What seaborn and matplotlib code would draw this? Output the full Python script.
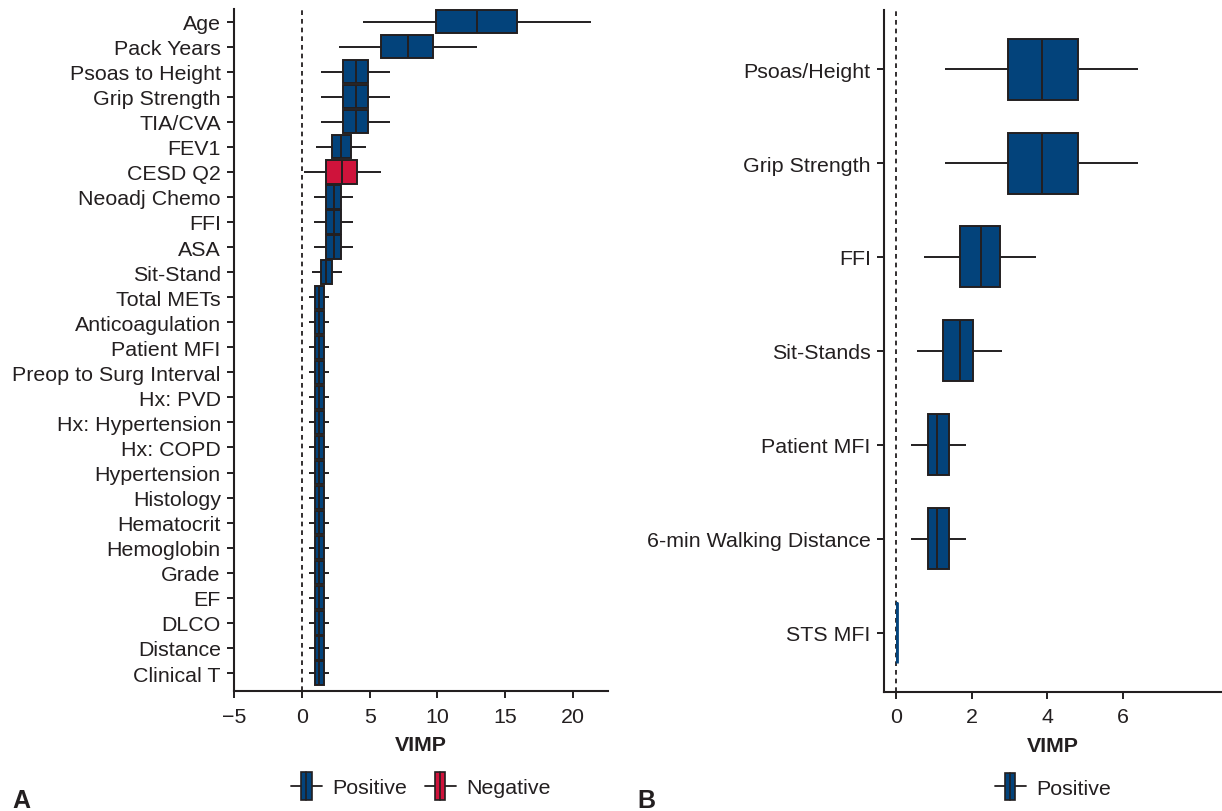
import numpy as np
import pandas as pd
import matplotlib
matplotlib.use("Agg")
import matplotlib.pyplot as plt
import matplotlib.patches as mpatches
from matplotlib.lines import Line2D
from matplotlib.legend_handler import HandlerBase
import seaborn as sns

# ---------------- data (five-number summaries) ----------------
a_vars = ["Age", "Pack Years", "Psoas to Height", "Grip Strength", "TIA/CVA", "FEV1",
          "CESD Q2", "Neoadj Chemo", "FFI", "ASA", "Sit-Stand", "Total METs",
          "Anticoagulation", "Patient MFI", "Preop to Surg Interval", "Hx: PVD",
          "Hx: Hypertension", "Hx: COPD", "Hypertension", "Histology", "Hematocrit",
          "Hemoglobin", "Grade", "EF", "DLCO", "Distance", "Clinical T"]
a_low  = [4.5, 2.75, 1.45, 1.45, 1.45, 1.05, 0.15, 0.9, 0.9, 0.9, 0.75] + [0.5] * 16
a_q1   = [9.9, 5.85, 3.0, 3.0, 3.0, 2.2, 1.8, 1.75, 1.75, 1.75, 1.4] + [0.95] * 16
a_med  = [12.9, 7.85, 4.0, 4.0, 4.0, 2.9, 2.95, 2.35, 2.35, 2.35, 1.8] + [1.25] * 16
a_q3   = [15.9, 9.7, 4.9, 4.9, 4.9, 3.6, 4.05, 2.9, 2.9, 2.9, 2.25] + [1.6] * 16
a_high = [21.3, 12.9, 6.5, 6.5, 6.5, 4.7, 5.85, 3.75, 3.75, 3.75, 2.95] + [2.0] * 16
a_sign = ["Positive"] * 6 + ["Negative"] + ["Positive"] * 20

b_vars = ["Psoas/Height", "Grip Strength", "FFI", "Sit-Stands", "Patient MFI",
          "6-min Walking Distance", "STS MFI"]
b_low  = [1.3, 1.3, 0.75, 0.55, 0.4, 0.4, 0.03]
b_q1   = [2.95, 2.95, 1.7, 1.25, 0.85, 0.85, 0.03]
b_med  = [3.85, 3.85, 2.25, 1.7, 1.1, 1.1, 0.03]
b_q3   = [4.8, 4.8, 2.75, 2.05, 1.4, 1.4, 0.03]
b_high = [6.4, 6.4, 3.7, 2.8, 1.85, 1.85, 0.03]
b_sign = ["Positive"] * 7

a_xticks = [-5, 0, 5, 10, 15, 20]
b_xticks = [0, 2, 4, 6]

BLUE = "#03437B"
RED = "#CF133B"
DARK = "#231F20"
palette = {"Positive": BLUE, "Negative": RED}


def long_df(names, lo, q1, md, q3, hi, sign):
    rows = []
    for n, a, b, c, d, e, s in zip(names, lo, q1, md, q3, hi, sign):
        for v in (a, b, c, d, e):
            rows.append({"var": n, "VIMP": v, "sign": s})
    return pd.DataFrame(rows)


dfa = long_df(a_vars, a_low, a_q1, a_med, a_q3, a_high, a_sign)
dfb = long_df(b_vars, b_low, b_q1, b_med, b_q3, b_high, b_sign)

# ---------------- style ----------------
sns.set_theme(style="ticks")
plt.rcParams["font.family"] = ["Liberation Sans", "DejaVu Sans"]
plt.rcParams.update({
    "axes.edgecolor": DARK, "axes.linewidth": 1.5,
    "xtick.color": DARK, "ytick.color": DARK,
    "xtick.labelcolor": DARK, "ytick.labelcolor": DARK,
    "xtick.major.width": 1.4, "ytick.major.width": 1.4,
    "xtick.major.size": 5, "ytick.major.size": 5,
    "text.color": DARK, "axes.labelcolor": DARK,
})

FS = 15.4

fig = plt.figure(figsize=(12.22, 8.12), dpi=100)
axA = fig.add_axes([234 / 1222, 1 - 692.3 / 812, (607.7 - 234) / 1222, (692.3 - 10) / 812])
axB = fig.add_axes([884 / 1222, 1 - 692.7 / 812, (1221.7 - 884) / 1222, (692.7 - 11) / 812])


class BoxHandler(HandlerBase):
    def create_artists(self, legend, orig_handle, xdescent, ydescent, width, height,
                       fontsize, trans):
        x0, y0 = -xdescent, -ydescent
        ym = y0 + height / 2
        ln = Line2D([x0, x0 + width], [ym, ym], color=DARK, lw=1.3, transform=trans)
        bw = width * 0.34
        bh = height * 1.25
        rect = mpatches.Rectangle((x0 + width / 2 - bw / 2, ym - bh / 2), bw, bh,
                                  facecolor=orig_handle.get_facecolor(), edgecolor=DARK,
                                  lw=1.2, transform=trans)
        med = Line2D([x0 + width / 2, x0 + width / 2], [ym - bh / 2, ym + bh / 2],
                     color=DARK, lw=1.2, transform=trans)
        return [ln, rect, med]


def draw(ax, df, order, width, xlim, ylim, xticks, legend_labels):
    ax.axvline(0, color=DARK, lw=1.3, ls=(0, (2.6, 2.2)), zorder=0.5)
    sns.boxplot(data=df, x="VIMP", y="var", hue="sign", order=order, palette=palette,
                saturation=1, dodge=False, width=width, whis=np.inf, showcaps=False,
                linecolor=DARK, linewidth=1.4, legend=False, ax=ax, orient="h")
    ax.set_xlim(*xlim)
    ax.set_ylim(*ylim)
    ax.set_xticks(xticks)
    ax.set_ylabel("")
    ax.set_xlabel("VIMP", fontsize=FS, fontweight="bold", labelpad=7)
    ax.tick_params(axis="both", labelsize=FS, length=5, width=1.4)
    ax.tick_params(axis="x", pad=6)
    ax.tick_params(axis="y", pad=4.5)
    sns.despine(ax=ax)
    handles = [mpatches.Patch(facecolor=palette[l], label=l) for l in legend_labels]
    ax.legend(handles=handles, handler_map={mpatches.Patch: BoxHandler()},
              loc="center", bbox_to_anchor=(0.5, -0.139), ncol=len(handles),
              frameon=False, fontsize=FS, handlelength=1.45, handleheight=1.2,
              handletextpad=0.5, columnspacing=0.8)


draw(axA, dfa, a_vars, 0.93, (-5, 22.55), (26.73, -0.5), a_xticks, ["Positive", "Negative"])
draw(axB, dfb, b_vars, 0.65, (-0.31, 8.6), (6.63, -0.63), b_xticks, ["Positive"])

# zero-width box (STS MFI) is drawn in the fill colour, as in the original
idx = len(b_vars) - 1
for p in axB.patches:
    ext = p.get_path().get_extents()
    if ext.width < 1e-6:
        p.set_edgecolor(BLUE)
        p.set_linewidth(2.0)
for ln in axB.lines:
    yd = np.asarray(ln.get_ydata(), dtype=float)
    xd = np.asarray(ln.get_xdata(), dtype=float)
    if yd.size and np.all(np.abs(yd - idx) < 0.5) and np.ptp(xd) < 1e-6:
        ln.set_color(BLUE)

fig.text(12 / 1222, 4 / 812, "A", fontsize=18, fontweight="bold", color=DARK)
fig.text(637 / 1222, 4 / 812, "B", fontsize=18, fontweight="bold", color=DARK)

fig.savefig("out.png", dpi=100)
